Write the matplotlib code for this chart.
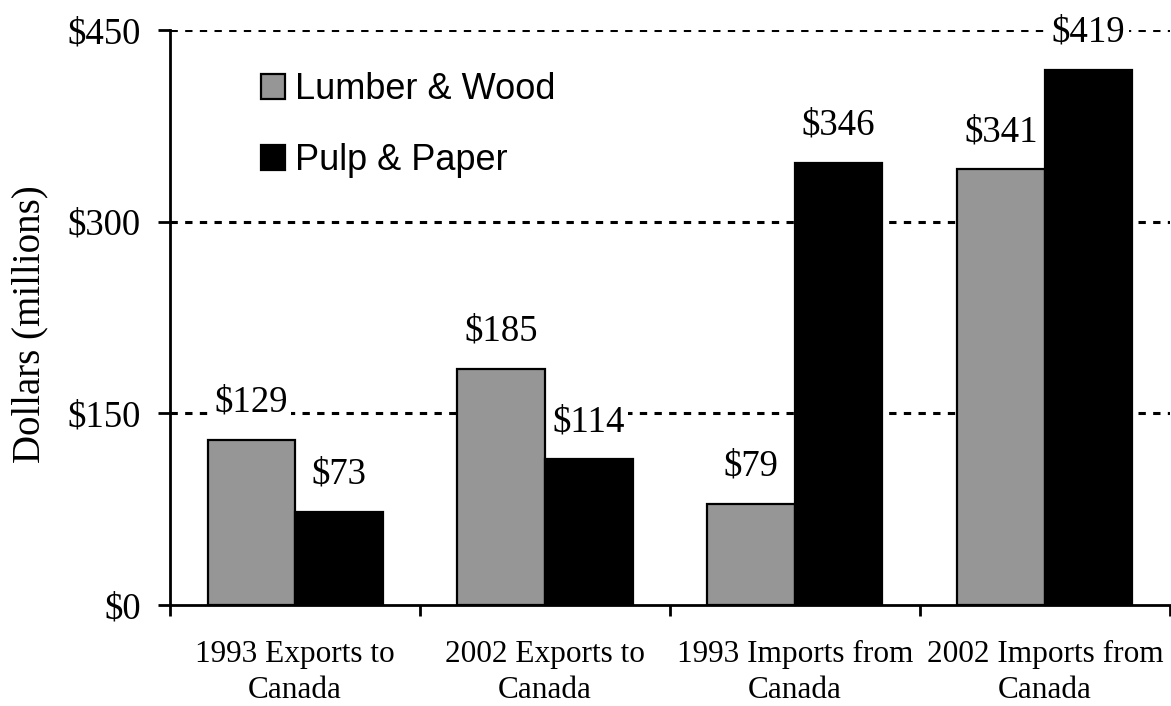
import matplotlib
matplotlib.use("Agg")
import matplotlib.pyplot as plt
import numpy as np

categories = ["1993 Exports to\nCanada", "2002 Exports to\nCanada",
              "1993 Imports from\nCanada", "2002 Imports from\nCanada"]
lumber_wood = [129, 185, 79, 341]
pulp_paper = [73, 114, 346, 419]
series_names = ["Lumber & Wood", "Pulp & Paper"]
y_ticks = [0, 150, 300, 450]

SERIF = "Liberation Serif"
SANS = "Liberation Sans"
GRAY = "#969696"

fig = plt.figure(figsize=(11.71, 7.06), dpi=100)
ax = fig.add_axes([170 / 1171, 101 / 706, 1000 / 1171, 575 / 706])

x = np.arange(len(categories))
w = 0.35
bars_lw = ax.bar(x - w / 2, lumber_wood, w, color=GRAY, edgecolor="black",
                 linewidth=1.6, label=series_names[0], zorder=2)
bars_pp = ax.bar(x + w / 2, pulp_paper, w, color="black", edgecolor="black",
                 linewidth=1.6, label=series_names[1], zorder=2)

ax.set_xlim(-0.5, len(categories) - 0.5)
ax.set_ylim(0, 450)

# dashed horizontal gridlines
for yv in y_ticks[1:]:
    ax.axhline(yv, color="black", linewidth=2.2, linestyle=(0, (2.4, 2.4)),
               zorder=1)

# value labels above each bar, on a white box
for bars, vals in ((bars_lw, lumber_wood), (bars_pp, pulp_paper)):
    for b, v in zip(bars, vals):
        ax.annotate(f"${v}", (b.get_x() + b.get_width() / 2, v),
                    xytext=(0, 27), textcoords="offset points",
                    ha="center", va="center", fontsize=26.5, family=SERIF,
                    bbox=dict(boxstyle="square,pad=0.08", fc="white",
                              ec="none"),
                    zorder=4)

# axes styling
for s in ("top", "right"):
    ax.spines[s].set_visible(False)
for s in ("left", "bottom"):
    ax.spines[s].set_linewidth(2)
    ax.spines[s].set_zorder(3)

ax.set_yticks(y_ticks)
ax.set_yticklabels([f"${t}" for t in y_ticks], fontsize=26.5, family=SERIF)
ax.tick_params(axis="y", direction="out", length=9, width=2, pad=12)

ax.set_xticks(x)
ax.set_xticklabels(categories, fontsize=22.5, family=SERIF, linespacing=1.32)
ax.set_xticks(np.arange(len(categories) + 1) - 0.5, minor=True)
ax.tick_params(axis="x", which="major", length=0, pad=25)
ax.tick_params(axis="x", which="minor", direction="out", length=8, width=2)

ax.set_ylabel("Dollars (millions)", fontsize=28, family=SERIF)
ax.yaxis.set_label_coords(-0.122, 0.489)

leg = ax.legend(loc="upper left", bbox_to_anchor=(0.091, 0.927),
                frameon=False, prop={"family": SANS, "size": 26},
                handlelength=0.67, handleheight=0.67, handletextpad=0.27,
                labelspacing=1.0, borderpad=0, borderaxespad=0)

fig.savefig("out.png", dpi=100)
